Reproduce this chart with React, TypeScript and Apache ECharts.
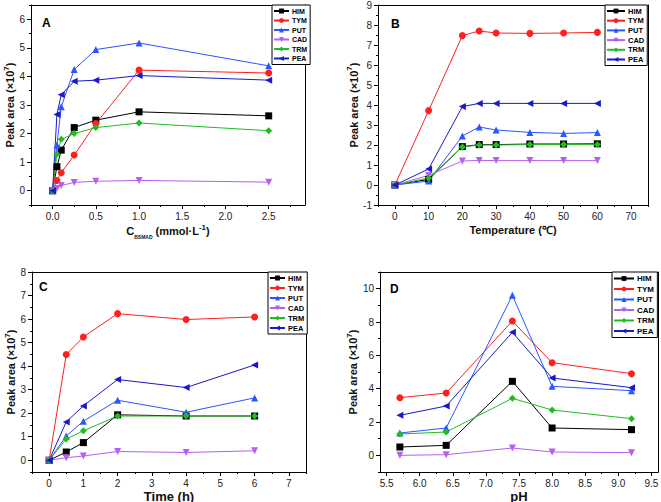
import React, { useEffect, useRef } from 'react';
import * as echarts from 'echarts';

const NAMES = ['HIM', 'TYM', 'PUT', 'CAD', 'TRM', 'PEA'];

// Panel A: BSMAD concentration
const X_A = [0, 0.05, 0.1, 0.25, 0.5, 1.0, 2.5];
const A_HIM = [0, 0.84, 1.42, 2.21, 2.47, 2.76, 2.62];
const A_TYM = [0, 0.36, 0.63, 1.25, 2.35, 4.22, 4.12];
const A_PUT = [0, 1.6, 2.94, 4.24, 4.94, 5.17, 4.37];
const A_CAD = [0, 0.08, 0.18, 0.29, 0.33, 0.36, 0.3];
const A_TRM = [0, 1.28, 1.8, 2.0, 2.21, 2.37, 2.1];
const A_PEA = [0, 2.67, 3.36, 3.83, 3.87, 4.03, 3.87];

// Panel B: temperature
const X_B = [0, 10, 20, 25, 30, 40, 50, 60];
const B_HIM = [0, 0.28, 1.92, 2.02, 2.02, 2.05, 2.05, 2.06];
const B_TYM = [0, 3.72, 7.47, 7.7, 7.6, 7.58, 7.6, 7.63];
const B_PUT = [0, 0.2, 2.45, 2.9, 2.75, 2.63, 2.58, 2.62];
const B_CAD = [0, 0.48, 1.2, 1.23, 1.22, 1.22, 1.22, 1.22];
const B_TRM = [0, 0.35, 1.9, 2.0, 2.0, 2.02, 2.02, 2.02];
const B_PEA = [0, 0.8, 3.92, 4.08, 4.08, 4.08, 4.08, 4.08];

// Panel C: time
const X_C = [0, 0.5, 1, 2, 4, 6];
const C_HIM = [0, 0.35, 0.75, 1.93, 1.88, 1.88];
const C_TYM = [0, 4.49, 5.24, 6.23, 5.98, 6.09];
const C_PUT = [0, 1.03, 1.66, 2.55, 2.04, 2.65];
const C_CAD = [0, 0.11, 0.18, 0.37, 0.33, 0.4];
const C_TRM = [0, 0.9, 1.25, 1.88, 1.88, 1.88];
const C_PEA = [0, 1.63, 2.31, 3.43, 3.09, 4.05];

// Panel D: pH
const X_D = [5.7, 6.4, 7.4, 8.0, 9.2];
const D_HIM = [0.5, 0.6, 4.44, 1.64, 1.54];
const D_TYM = [3.46, 3.74, 8.06, 5.56, 4.9];
const D_PUT = [1.34, 1.64, 9.6, 4.14, 3.88];
const D_CAD = [0.0, 0.04, 0.44, 0.2, 0.16];
const D_TRM = [1.28, 1.4, 3.42, 2.72, 2.2];
const D_PEA = [2.4, 2.96, 7.38, 4.64, 4.06];

// Tick values
const A_X_TICKS = [0, 0.5, 1.0, 1.5, 2.0, 2.5];
const A_X_MINOR = [-0.25, 0.25, 0.75, 1.25, 1.75, 2.25, 2.75];
const A_Y_TICKS = [0, 1, 2, 3, 4, 5, 6];
const A_Y_MINOR = [-0.5, 0.5, 1.5, 2.5, 3.5, 4.5, 5.5, 6.5];
const B_X_TICKS = [0, 10, 20, 30, 40, 50, 60, 70];
const B_X_MINOR = [-5, 5, 15, 25, 35, 45, 55, 65, 75];
const B_Y_TICKS = [-1, 0, 1, 2, 3, 4, 5, 6, 7, 8, 9];
const B_Y_MINOR = [-0.5, 0.5, 1.5, 2.5, 3.5, 4.5, 5.5, 6.5, 7.5, 8.5];
const C_X_TICKS = [0, 1, 2, 3, 4, 5, 6, 7];
const C_X_MINOR = [-0.5, 0.5, 1.5, 2.5, 3.5, 4.5, 5.5, 6.5, 7.5];
const C_Y_TICKS = [0, 1, 2, 3, 4, 5, 6, 7, 8];
const C_Y_MINOR = [-0.5, 0.5, 1.5, 2.5, 3.5, 4.5, 5.5, 6.5, 7.5];
const D_X_TICKS = [5.5, 6.0, 6.5, 7.0, 7.5, 8.0, 8.5, 9.0, 9.5];
const D_X_MINOR = [5.75, 6.25, 6.75, 7.25, 7.75, 8.25, 8.75, 9.25];
const D_Y_TICKS = [0, 2, 4, 6, 8, 10];
const D_Y_MINOR = [-1, 1, 3, 5, 7, 9, 11];

const COLORS = ['#000000', '#ff1f1f', '#2a55ff', '#b660f0', '#22bb22', '#1a1ac8'];
const SYMBOLS = ['rect', 'circle', 'triangle', 'triangle', 'diamond', 'triangle'];
const ROTATES = [0, 0, 0, 180, 0, 90];

const FONT = '"Liberation Sans", Arial, sans-serif';

const panels = [
  {
    x: X_A, ys: [A_HIM, A_TYM, A_PUT, A_CAD, A_TRM, A_PEA],
    grid: { left: 31, top: 5, width: 274, height: 200 },
    xMin: -0.25, xMax: 2.92, yMin: -0.5, yMax: 6.5,
    xTicks: A_X_TICKS, xMinor: A_X_MINOR, yTicks: A_Y_TICKS, yMinor: A_Y_MINOR, xDec: 1,
    xName: '{b|C}{sub|BSMAD}{b| (mmol·L}{sup|-1}{b|)}', xGap: 18, yGap: 11,
    legend: { left: 272, top: 5, itemWidth: 15, fontSize: 7, lineHeight: 8, gap: 1.5 },
    letter: 'A', lx: 42, ly: 17,
  },
  {
    x: X_B, ys: [B_HIM, B_TYM, B_PUT, B_CAD, B_TRM, B_PEA],
    grid: { left: 378, top: 5, width: 270, height: 200 },
    xMin: -5, xMax: 75, yMin: -1, yMax: 9,
    xTicks: B_X_TICKS, xMinor: B_X_MINOR, yTicks: B_Y_TICKS, yMinor: B_Y_MINOR, xDec: 0,
    xName: '{b|Temperature (℃)}', xGap: 17, yGap: 10,
    legend: { left: 605, top: 5, itemWidth: 18, fontSize: 7.5, lineHeight: 8, gap: 1.7 },
    letter: 'B', lx: 391, ly: 18,
  },
  {
    x: X_C, ys: [C_HIM, C_TYM, C_PUT, C_CAD, C_TRM, C_PEA],
    grid: { left: 32, top: 272, width: 274, height: 200 },
    xMin: -0.5, xMax: 7.5, yMin: -0.5, yMax: 8,
    xTicks: C_X_TICKS, xMinor: C_X_MINOR, yTicks: C_Y_TICKS, yMinor: C_Y_MINOR, xDec: 0,
    xName: '{big|Time (h)}', xGap: 16, yGap: 13,
    legend: { left: 268, top: 272, itemWidth: 15, fontSize: 7.5, lineHeight: 8, gap: 2 },
    letter: 'C', lx: 39, ly: 281,
  },
  {
    x: X_D, ys: [D_HIM, D_TYM, D_PUT, D_CAD, D_TRM, D_PEA],
    grid: { left: 380, top: 272, width: 278, height: 200 },
    xMin: 5.4, xMax: 9.6, yMin: -1, yMax: 11,
    xTicks: D_X_TICKS, xMinor: D_X_MINOR, yTicks: D_Y_TICKS, yMinor: D_Y_MINOR, xDec: 1,
    xName: '{big|pH}', xGap: 16, yGap: 10,
    legend: { left: 612, top: 272, itemWidth: 20, fontSize: 8, lineHeight: 9, gap: 1.5 },
    letter: 'D', lx: 390, ly: 283,
  },
];

const rich = {
  b: { fontSize: 11, fontWeight: 'bold', color: '#111', fontFamily: FONT, lineHeight: 16 },
  big: { fontSize: 13, fontWeight: 'bold', color: '#111', fontFamily: FONT, lineHeight: 16 },
  sup: { fontSize: 8, fontWeight: 'bold', color: '#111', fontFamily: FONT, verticalAlign: 'top', lineHeight: 8 },
  sub: { fontSize: 5, fontWeight: 'bold', color: '#111', fontFamily: FONT, verticalAlign: 'bottom', lineHeight: 6 },
};

export default function App() {
  const ref = useRef<HTMLDivElement>(null);
  useEffect(() => {
    if (!ref.current) return;
    const chart = echarts.init(ref.current, null, { renderer: 'svg' });
    const grids: any[] = [];
    const xAxes: any[] = [];
    const yAxes: any[] = [];
    const extraX: any[] = [];
    const extraY: any[] = [];
    const legends: any[] = [];
    const series: any[] = [];
    const graphics: any[] = [];
    panels.forEach((p, pi) => {
      grids.push({ ...p.grid, show: false, outerBoundsMode: 'none', containLabel: false });
      xAxes.push({
        type: 'value', gridIndex: pi, min: p.xMin, max: p.xMax, position: 'bottom',
        name: p.xName, nameLocation: 'middle', nameGap: p.xGap,
        nameTextStyle: { rich },
        axisLine: { show: true, onZero: false, lineStyle: { color: '#000', width: 1 } },
        axisTick: { show: true, length: 4, customValues: p.xTicks, lineStyle: { color: '#000' } },
        axisLabel: { customValues: p.xTicks, margin: 6, fontSize: 10, color: '#222', fontFamily: FONT, formatter: (v: number) => v.toFixed(p.xDec) },
        splitLine: { show: false },
      });
      yAxes.push({
        type: 'value', gridIndex: pi, min: p.yMin, max: p.yMax, position: 'left',
        name: '{b|Peak area (×10}{sup|7}{b|)}', nameLocation: 'middle', nameGap: p.yGap, nameRotate: 90,
        nameTextStyle: { rich },
        axisLine: { show: true, onZero: false, lineStyle: { color: '#000', width: 1 } },
        axisTick: { show: true, length: 4, customValues: p.yTicks, lineStyle: { color: '#000' } },
        axisLabel: { customValues: p.yTicks, margin: 6, fontSize: 10, color: '#222', fontFamily: FONT },
        splitLine: { show: false },
      });
      // minor ticks
      extraX.push({
        type: 'value', gridIndex: pi, min: p.xMin, max: p.xMax, position: 'bottom',
        axisLine: { show: false, onZero: false },
        axisTick: { show: true, length: 2, customValues: p.xMinor, lineStyle: { color: '#000' } },
        axisLabel: { show: false },
        splitLine: { show: false },
      });
      extraY.push({
        type: 'value', gridIndex: pi, min: p.yMin, max: p.yMax, position: 'left',
        axisLine: { show: false, onZero: false },
        axisTick: { show: true, length: 2, customValues: p.yMinor, lineStyle: { color: '#000' } },
        axisLabel: { show: false },
        splitLine: { show: false },
      });
      // frame: top and right
      extraX.push({
        type: 'value', gridIndex: pi, min: p.xMin, max: p.xMax, position: 'top',
        axisLine: { show: true, onZero: false, lineStyle: { color: '#000', width: 1 } },
        axisTick: { show: false }, axisLabel: { show: false }, splitLine: { show: false },
      });
      extraY.push({
        type: 'value', gridIndex: pi, min: p.yMin, max: p.yMax, position: 'right',
        axisLine: { show: true, onZero: false, lineStyle: { color: '#000', width: 1 } },
        axisTick: { show: false }, axisLabel: { show: false }, splitLine: { show: false },
      });
      legends.push({
        left: p.legend.left, top: p.legend.top, orient: 'vertical', data: NAMES,
        itemWidth: p.legend.itemWidth, itemHeight: 6, itemGap: p.legend.gap,
        padding: [2, 3, 2, 1], borderColor: '#000', borderWidth: 1, backgroundColor: '#fff',
        selectedMode: false,
        textStyle: { fontSize: p.legend.fontSize, fontWeight: 'bold', color: '#000', fontFamily: FONT, lineHeight: p.legend.lineHeight, padding: [0, 0, 0, -2] },
      });
      NAMES.forEach((n, ci) => {
        series.push({
          type: 'line', name: n, xAxisIndex: pi, yAxisIndex: pi,
          data: p.x.map((xv, i) => [xv, p.ys[ci][i]]),
          symbol: SYMBOLS[ci], symbolRotate: ROTATES[ci], symbolSize: 7,
          lineStyle: { width: 1, color: COLORS[ci] },
          itemStyle: { color: COLORS[ci] },
          emphasis: { disabled: true },
        });
      });
      graphics.push({ type: 'text', left: p.lx, top: p.ly, style: { text: p.letter, font: `bold 12px ${FONT}`, fill: '#000' } });
    });
    chart.setOption({
      animation: false,
      backgroundColor: '#fff',
      textStyle: { fontFamily: FONT },
      grid: grids,
      xAxis: [...xAxes, ...extraX],
      yAxis: [...yAxes, ...extraY],
      legend: legends,
      series,
      graphic: graphics,
    });
    return () => chart.dispose();
  }, []);
  return <div ref={ref} style={{ position: 'absolute', left: 0, top: 0, width: 661, height: 502 }} />;
}
